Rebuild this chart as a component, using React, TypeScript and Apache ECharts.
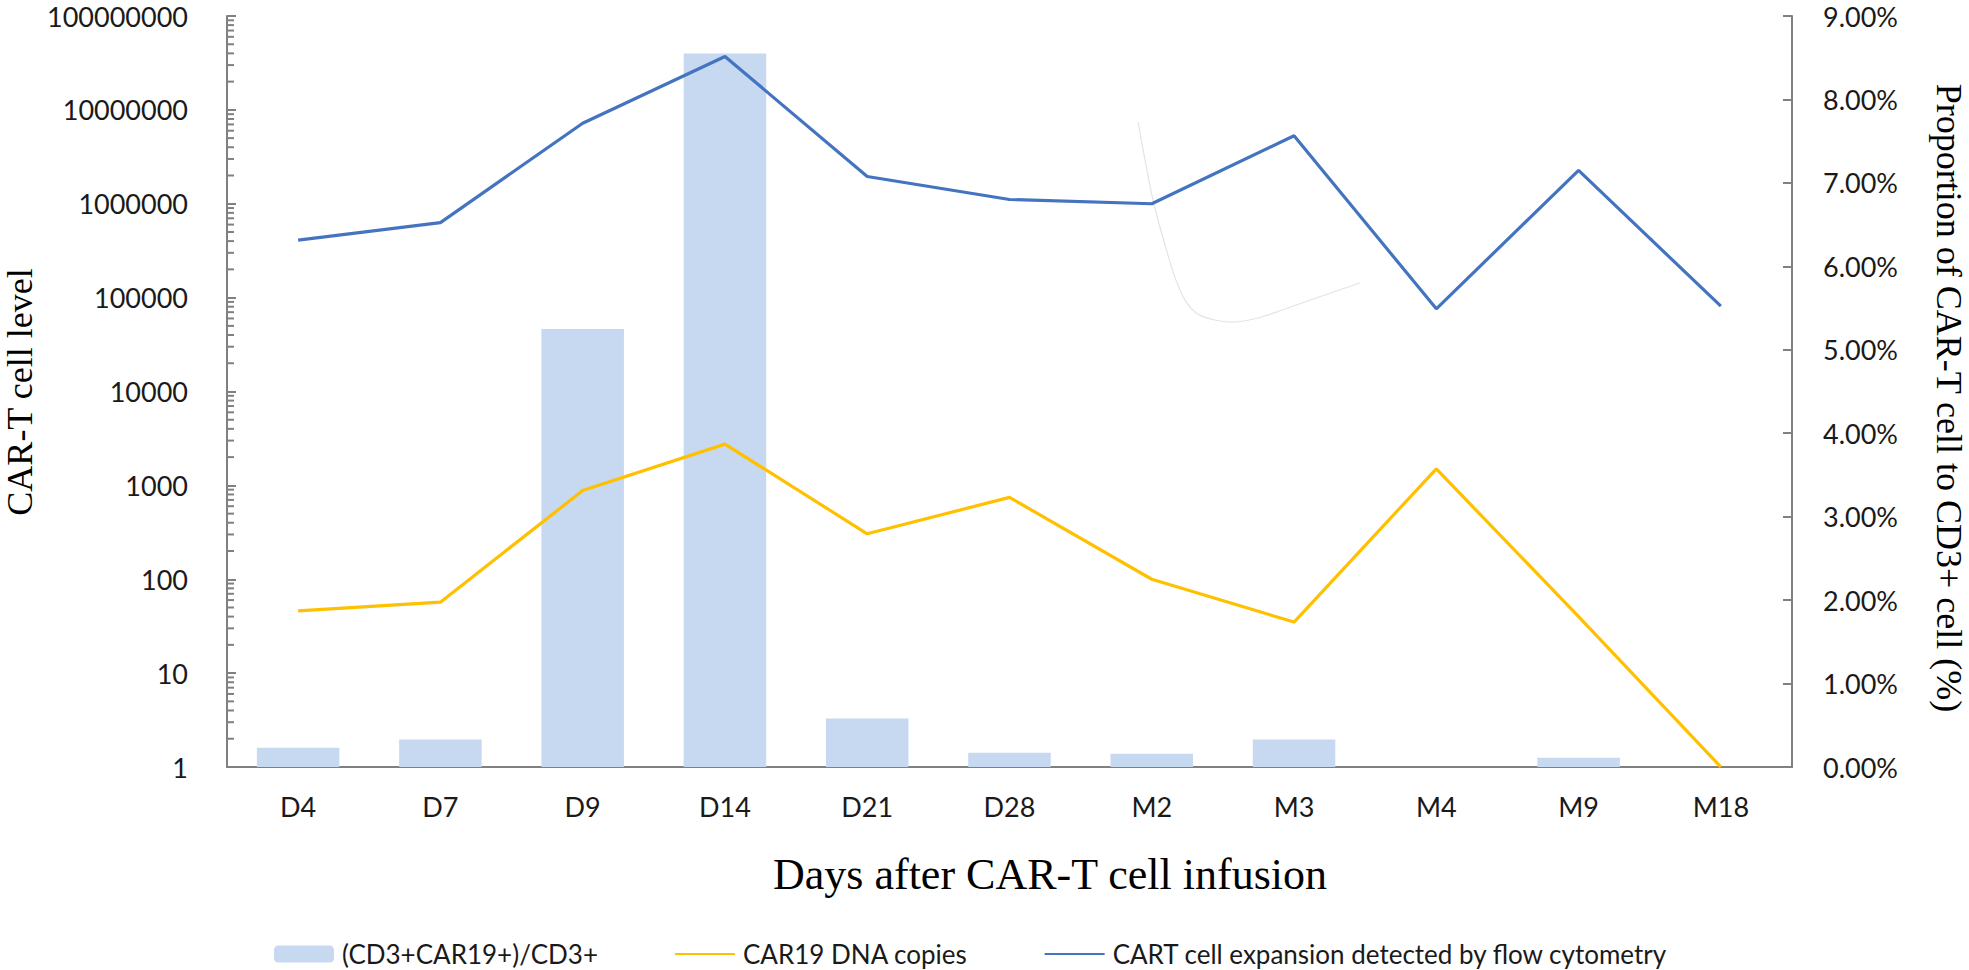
import React, { useEffect, useRef } from "react";
import * as echarts from "echarts";

const categories = ["D4", "D7", "D9", "D14", "D21", "D28", "M2", "M3", "M4", "M9", "M18"];
// (CD3+CAR19+)/CD3+ in percent (right axis)
const proportionPct = [0.23, 0.33, 5.25, 8.55, 0.58, 0.17, 0.16, 0.33, 0, 0.11, 0];
// CAR19 DNA copies (left log axis)
const car19Copies = [46, 57, 880, 2750, 305, 745, 100, 35, 1500, 40, 1];
// CART cell expansion detected by flow cytometry (left log axis)
const flowExpansion = [410000, 630000, 7200000, 37000000, 1950000, 1110000, 1000000, 5300000, 76000, 2270000, 81000];

const seriesNames = [
  "(CD3+CAR19+)/CD3+",
  "CAR19 DNA copies",
  "CART cell expansion detected by flow cytometry",
];

const leftMin = 1;
const leftMax = 100000000;
const rightMin = 0;
const rightMax = 9;
const rightInterval = 1;

// minor tick values of the log axis (2..9 in each decade)
const minorMultipliers = [2, 3, 4, 5, 6, 7, 8, 9];
const decades = [1, 10, 100, 1000, 10000, 100000, 1000000, 10000000];
const minorTickValues: number[] = [];
decades.forEach((d) => minorMultipliers.forEach((m) => minorTickValues.push(m * d)));

const AXIS_COLOR = "#808080";
const SANS = "Lato";
const SERIF = "'Liberation Serif', 'Times New Roman', serif";
const GRID_LEFT = 227;

export default function App() {
  const ref = useRef<HTMLDivElement>(null);

  useEffect(() => {
    if (!ref.current) return;
    const chart = echarts.init(ref.current, undefined, { renderer: "svg" });
    const baseGraphics: any[] = [
      {
        id: "ytitle-left",
        type: "text",
        x: 20,
        y: 392,
        rotation: Math.PI / 2,
        style: {
          text: "CAR-T cell level",
          fontFamily: SERIF,
          fontSize: 36,
          fill: "#000",
          align: "center",
          verticalAlign: "middle",
        },
      },
      {
        id: "ytitle-right",
        type: "text",
        x: 1949,
        y: 398,
        rotation: -Math.PI / 2,
        style: {
          text: "Proportion of CAR-T cell to CD3+ cell (%)",
          fontFamily: SERIF,
          fontSize: 36,
          fill: "#000",
          align: "center",
          verticalAlign: "middle",
        },
      },
      {
        id: "xtitle",
        type: "text",
        x: 1050,
        y: 874,
        style: {
          text: "Days after CAR-T cell infusion",
          fontFamily: SERIF,
          fontSize: 44,
          fill: "#000",
          align: "center",
          verticalAlign: "middle",
        },
      },
      {
        id: "stray-curve",
        type: "polyline",
        silent: true,
        shape: {
          points: [
            [1138, 122],
            [1146, 165],
            [1153, 200],
            [1165, 245],
            [1180, 290],
            [1195, 312],
            [1215, 320],
            [1235, 322],
            [1258, 318],
            [1285, 309],
            [1322, 296],
            [1360, 283],
          ],
          smooth: 0.4,
        },
        style: { stroke: "#e4e4e4", lineWidth: 1.2, fill: null },
        z: 0,
      },
    ];
    const option: any = {
      animation: false,
      backgroundColor: "#ffffff",
      grid: { left: GRID_LEFT, right: 177, top: 16, bottom: 203, outerBoundsMode: "none" },
      legend: {
        left: 269,
        top: 936,
        itemWidth: 60,
        itemHeight: 17,
        itemGap: 76,
        data: [
          { name: seriesNames[0] },
          { name: seriesNames[1], itemStyle: { opacity: 0 } },
          { name: seriesNames[2], itemStyle: { opacity: 0 } },
        ],
        textStyle: { fontFamily: SANS, fontSize: 26, color: "#1a1a1a", padding: [0, 0, 0, 3], lineHeight: 26 },
      },
      xAxis: {
        type: "category",
        data: categories,
        boundaryGap: true,
        axisLine: { show: true, onZero: false, lineStyle: { color: AXIS_COLOR, width: 2 } },
        axisTick: { show: false },
        axisLabel: { fontFamily: SANS, fontSize: 27, color: "#1a1a1a", margin: 26 },
        splitLine: { show: false },
      },
      yAxis: [
        {
          type: "log",
          logBase: 10,
          min: leftMin,
          max: leftMax,
          position: "left",
          axisLine: { show: true, lineStyle: { color: AXIS_COLOR, width: 2 } },
          axisTick: { show: true, inside: true, length: 9, lineStyle: { color: AXIS_COLOR, width: 2 } },
          minorTick: { show: false },
          axisLabel: {
            fontFamily: SANS,
            fontSize: 27,
            lineHeight: 22,
            color: "#1a1a1a",
            margin: 39,
            formatter: (v: number) => String(Math.round(v)),
          },
          splitLine: { show: false },
        },
        {
          type: "value",
          min: rightMin,
          max: rightMax,
          interval: rightInterval,
          position: "right",
          axisLine: { show: true, lineStyle: { color: AXIS_COLOR, width: 2 } },
          axisTick: { show: true, inside: true, length: 9, lineStyle: { color: AXIS_COLOR, width: 2 } },
          axisLabel: {
            fontFamily: SANS,
            fontSize: 27,
            lineHeight: 22,
            color: "#1a1a1a",
            margin: 31,
            formatter: (v: number) => v.toFixed(2) + "%",
          },
          splitLine: { show: false },
        },
      ],
      series: [
        {
          name: seriesNames[0],
          type: "bar",
          yAxisIndex: 1,
          data: proportionPct,
          barCategoryGap: "42%",
          itemStyle: { color: "#c6d9f0" },
          z: 1,
        },
        {
          name: seriesNames[1],
          type: "line",
          yAxisIndex: 0,
          data: car19Copies,
          symbol: "none",
          lineStyle: { color: "#ffc000", width: 3.2 },
          itemStyle: { color: "#ffc000" },
          z: 3,
        },
        {
          name: seriesNames[2],
          type: "line",
          yAxisIndex: 0,
          data: flowExpansion,
          symbol: "none",
          lineStyle: { color: "#4474c0", width: 3.2 },
          itemStyle: { color: "#4474c0" },
          z: 4,
        },
      ],
      graphic: baseGraphics,
    };
    chart.setOption(option);

    // minor ticks of the log axis, positioned through the axis scale
    const tickGraphics: any[] = [];
    minorTickValues.forEach((v, i) => {
      const y = chart.convertToPixel({ yAxisIndex: 0 }, v) as unknown as number;
      if (typeof y === "number" && isFinite(y)) {
        tickGraphics.push({
          id: "minor-" + i,
          type: "line",
          silent: true,
          z: 10,
          shape: { x1: GRID_LEFT, y1: y, x2: GRID_LEFT + 7, y2: y },
          style: { stroke: AXIS_COLOR, lineWidth: 2 },
        });
      }
    });
    chart.setOption({ graphic: [...baseGraphics, ...tickGraphics] });
    return () => chart.dispose();
  }, []);

  return (
    <div
      ref={ref}
      style={{ position: "fixed", left: 0, top: 0, width: 1969, height: 970, background: "#fff" }}
    />
  );
}
